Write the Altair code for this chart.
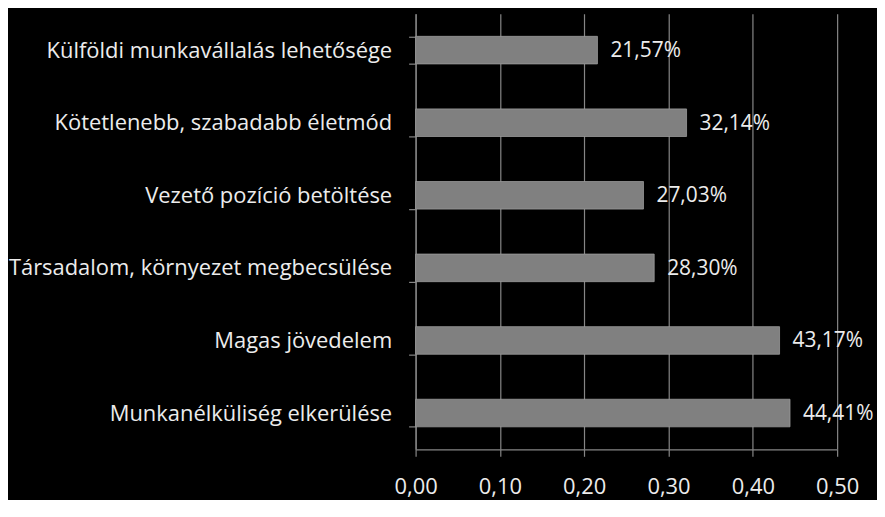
import altair as alt
import pandas as pd

categories = [
    "Külföldi munkavállalás lehetősége",
    "Kötetlenebb, szabadabb életmód",
    "Vezető pozíció betöltése",
    "Társadalom, környezet megbecsülése",
    "Magas jövedelem",
    "Munkanélküliség elkerülése",
]
values = [0.2157, 0.3214, 0.2703, 0.2830, 0.4317, 0.4441]
x_ticks = [0.0, 0.1, 0.2, 0.3, 0.4, 0.5]

df = pd.DataFrame({
    "cat": categories,
    "val": values,
    "label": [f"{v*100:.2f}".replace(".", ",") + "%" for v in values],
})

FONT = "Open Sans"
FS = 22
TXT = "#ececec"
GRID = "#868686"

x_enc = alt.X(
    "val:Q",
    scale=alt.Scale(domain=[0, 0.5], nice=False),
    axis=alt.Axis(
        values=x_ticks,
        labelExpr="replace(format(datum.value, '.2f'), '.', ',')",
        grid=True, gridColor=GRID, gridWidth=1.2,
        domainColor=GRID, domainWidth=1.2,
        tickColor=GRID, tickSize=7, tickWidth=1.2,
        labelColor=TXT, labelFont=FONT, labelFontSize=FS,
        labelPadding=20, labelFlush=False, labelOverlap=False,
        title=None,
    ),
)
y_enc = alt.Y(
    "cat:N",
    sort=categories,
    scale=alt.Scale(paddingInner=0.62, paddingOuter=0.31),
    axis=alt.Axis(
        tickBand="extent", grid=False,
        domainColor=GRID, domainWidth=1.2,
        tickColor=GRID, tickSize=7, tickWidth=1.2,
        labelColor=TXT, labelFont=FONT, labelFontSize=FS,
        labelPadding=17, labelLimit=600, title=None,
    ),
)

bars = alt.Chart(df).mark_bar(color="#808080", stroke="#999999", strokeWidth=0.8).encode(x=x_enc, y=y_enc)
texts = alt.Chart(df).mark_text(
    align="left", baseline="middle", dx=13, dy=1, font=FONT, fontSize=21, color=TXT
).encode(x=alt.X("val:Q"), y=alt.Y("cat:N", sort=categories), text="label:N")

chart = alt.layer(bars, texts).properties(
    width=423, height=437,
    background="#000000",
    padding={"left": 409, "top": 5, "right": 40, "bottom": 50},
    autosize=alt.AutoSizeParams(type="none"),
).configure_view(stroke=None)

chart.save("out.html", embed_options={"renderer": "svg", "actions": False})
